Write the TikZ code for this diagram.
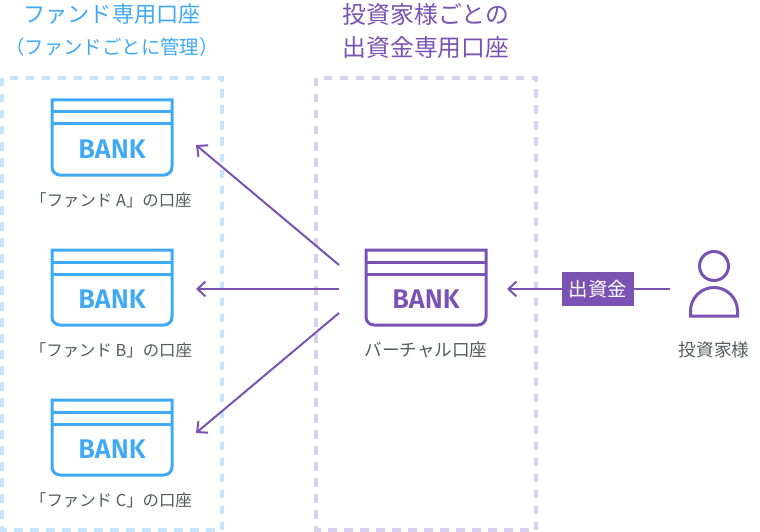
\documentclass[tikz,border=0pt]{standalone}
\usepackage{fontspec}
\setmainfont{Noto Sans CJK JP}
\newfontfamily\bankfont{Fira Sans}[UprightFont=* Medium,BoldFont=* SemiBold]
\usetikzlibrary{positioning, arrows.meta}
\definecolor{fundblue}{HTML}{3FA9F5}
\definecolor{fundpale}{HTML}{C6E5FD}
\definecolor{investpurple}{HTML}{7A52B3}
\definecolor{investpale}{HTML}{D9CFEE}
\definecolor{labelgray}{HTML}{555A5E}

\begin{document}
\begin{tikzpicture}[
        x=1pt, y=-1pt,
        every node/.style={inner sep=0pt},
        heading/.style={font=\fontsize{22.2}{26}\selectfont},
        headingwide/.style={font=\fontsize{23.8}{26}\selectfont},
        headingsub/.style={font=\fontsize{19.4}{26}\selectfont},
        caption/.style={font=\fontsize{16.4}{20}\selectfont, text=labelgray},
        captionwide/.style={font=\fontsize{17.6}{20}\selectfont, text=labelgray},
        banktext/.style={font=\bankfont\bfseries\fontsize{27}{30}\selectfont},
        zone/.style={line width=4pt, dash pattern=on 8.5pt off 7.5pt},
        card/.style={line width=3pt},
        flow/.style={draw=investpurple, line width=2pt, -{Straight Barb[length=8pt,width=15pt,line width=2pt]}}]

        \useasboundingbox (0,0) rectangle (760,532);

        % dashed zones
        \draw[zone, draw=fundpale] (2,78) rectangle (222,530);
        \draw[zone, draw=investpale] (316,78) rectangle (536,530);

        % headings
        \node[heading, text=fundblue] (HeadFund) at (112,14) {ファンド専用口座};
        \node[headingsub, text=fundblue] (HeadFundSub) at (112,47) {（ファンドごとに管理）};
        \node[headingwide, text=investpurple] (HeadInvest) at (426,14) {投資家様ごとの};
        \node[headingwide, text=investpurple] (HeadInvestSub) at (426,48) {出資金専用口座};

        % fund A
        \draw[card, draw=fundblue] (52,100) -- (172,100) {[rounded corners=8pt] -- (172,175) -- (52,175)} -- cycle;
        \draw[card, draw=fundblue] (52,112) -- (172,112);
        \draw[card, draw=fundblue] (52,124) -- (172,124);
        \node[banktext, text=fundblue] (BankA) at (112,149) {BANK};
        \node[caption] (LabelA) at (111,200) {「ファンド A」の口座};

        % fund B
        \draw[card, draw=fundblue] (52,250) -- (172,250) {[rounded corners=8pt] -- (172,325) -- (52,325)} -- cycle;
        \draw[card, draw=fundblue] (52,262) -- (172,262);
        \draw[card, draw=fundblue] (52,274) -- (172,274);
        \node[banktext, text=fundblue] (BankB) at (112,299) {BANK};
        \node[caption] (LabelB) at (111,350) {「ファンド B」の口座};

        % fund C
        \draw[card, draw=fundblue] (52,400) -- (172,400) {[rounded corners=8pt] -- (172,475) -- (52,475)} -- cycle;
        \draw[card, draw=fundblue] (52,412) -- (172,412);
        \draw[card, draw=fundblue] (52,424) -- (172,424);
        \node[banktext, text=fundblue] (BankC) at (112,449) {BANK};
        \node[caption] (LabelC) at (111,500) {「ファンド C」の口座};

        % virtual account
        \draw[card, draw=investpurple] (366,250) -- (486,250) {[rounded corners=8pt] -- (486,325) -- (366,325)} -- cycle;
        \draw[card, draw=investpurple] (366,262) -- (486,262);
        \draw[card, draw=investpurple] (366,274) -- (486,274);
        \node[banktext, text=investpurple] (BankV) at (426,299) {BANK};
        \node[captionwide] (LabelV) at (426,350) {バーチャル口座};

        % investor
        \draw[card, draw=investpurple] (714,266) circle (14.5);
        \draw[card, draw=investpurple] (690.5,316) -- (690.5,311) arc[start angle=180, end angle=360, radius=23.5] -- (737.5,316) -- cycle;
        \node[captionwide] (LabelP) at (714,350) {投資家様};

        % arrows
        \coordinate (OutA) at (339,265);
        \coordinate (OutB) at (339,289);
        \coordinate (OutC) at (339,313);
        \coordinate (InA) at (196,145);
        \coordinate (InB) at (196,289);
        \coordinate (InC) at (196,433);
        \coordinate (FromP) at (670,289);
        \coordinate (ToV) at (507,289);
        \draw[flow] (OutA) -- (InA);
        \draw[flow] (OutB) -- (InB);
        \draw[flow] (OutC) -- (InC);
        \draw[flow] (FromP) -- (ToV);
        \node[fill=investpurple, text=white, minimum width=72pt, minimum height=34pt,
            font=\fontsize{19.4}{22}\selectfont] (Money) at (598,289) {出資金};

    \end{tikzpicture}
\end{document}
